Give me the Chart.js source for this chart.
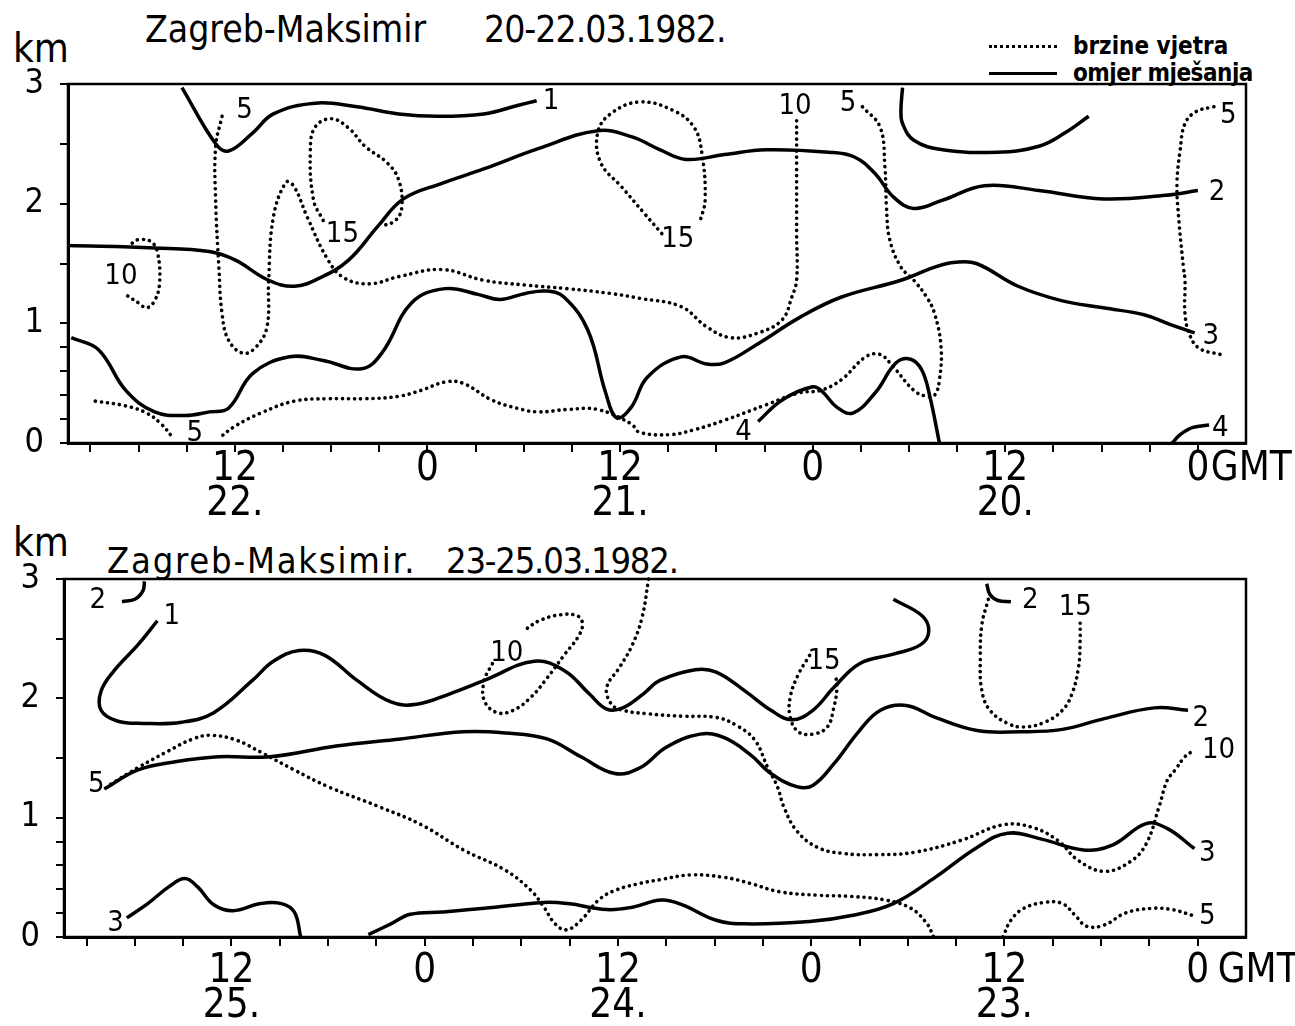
<!DOCTYPE html>
<html>
<head>
<meta charset="utf-8">
<script src="https://cdn.jsdelivr.net/npm/chart.js@4.4.0/dist/chart.umd.min.js"></script>
<style>
body { margin: 0; background: #fff; width: 1295px; height: 1026px; overflow: hidden; position: relative;
       font-family: 'DejaVu Sans Condensed', sans-serif; color: #000; }
canvas { position: absolute; left: 0; }
.txt { position: absolute; line-height: 1; white-space: nowrap; }
.uzorak { position: absolute; left: 989px; width: 68px; }
</style>
</head>
<body>
<div class="txt" style="left:13px;top:28px;font-size:40px">km</div>
<div class="txt" style="left:145px;top:11px;font-size:37px">Zagreb-Maksimir</div>
<div class="txt" style="left:484px;top:11px;font-size:37px;letter-spacing:-1px">20-22.03.1982.</div>
<div class="uzorak" style="top:45px;border-top:3px dotted #000"></div>
<div class="txt" style="left:1073px;top:34px;font-size:24px;font-weight:bold">brzine vjetra</div>
<div class="uzorak" style="top:72px;border-top:3px solid #000"></div>
<div class="txt" style="left:1073px;top:61px;font-size:24px;font-weight:bold;letter-spacing:-0.5px">omjer mješanja</div>

<div class="txt" style="left:13px;top:522px;font-size:40px">km</div>
<div class="txt" style="left:107px;top:543px;font-size:36px;letter-spacing:1.8px">Zagreb-Maksimir.</div>
<div class="txt" style="left:446px;top:543px;font-size:36px;letter-spacing:-1.2px">23-25.03.1982.</div>

<canvas id="gore" width="1295" height="540" style="top:0"></canvas>
<canvas id="dolje" width="1295" height="540" style="top:486px"></canvas>

<script>
// sati od 00 GMT prvog dana (os ide zdesna nalijevo), visina u km

// ---- 20-22.03.1982. ----
// omjer mjesanja (pune linije)
const goreOmjer1 = [[63.3,2.97],[61.2,2.50],[60.4,2.44],[58.9,2.59],[57.6,2.75],[55.0,2.84],[52.4,2.81],[49.8,2.75],[47.4,2.73],[44.5,2.75],[42.4,2.82],[41.2,2.86]];
const goreOmjer2 = [[70.4,1.65],[65.0,1.63],[61.6,1.60],[60.0,1.53],[57.9,1.36],[56.3,1.31],[54.7,1.38],[52.9,1.53],[51.1,1.81],[49.5,2.04],[47.1,2.17],[44.5,2.29],[41.1,2.46],[37.4,2.61],[35.3,2.56],[33.5,2.45],[31.9,2.37],[29.5,2.41],[26.9,2.45],[23.0,2.43],[21.4,2.39],[20.1,2.25],[19.0,2.06],[17.7,1.96],[15.9,2.03],[13.3,2.15],[9.9,2.11],[5.9,2.04],[2.0,2.07],[0.0,2.11]];
const goreOmjer2b = [[18.4,2.97],[18.5,2.78],[18.4,2.67],[17.7,2.53],[15.9,2.45],[12.5,2.43],[9.9,2.48],[8.3,2.59],[6.8,2.73]];
const goreOmjer3 = [[70.2,0.88],[68.5,0.78],[66.8,0.44],[65.0,0.26],[63.1,0.23],[61.6,0.26],[60.4,0.29],[58.9,0.58],[56.6,0.72],[54.5,0.69],[52.1,0.62],[50.8,0.76],[49.0,1.17],[46.9,1.29],[44.8,1.24],[43.5,1.20],[41.9,1.25],[40.6,1.27],[39.5,1.22],[38.0,0.94],[36.9,0.42],[36.2,0.21],[35.3,0.30],[34.3,0.55],[32.2,0.72],[30.6,0.66],[29.5,0.67],[27.4,0.83],[24.8,1.05],[22.2,1.22],[18.5,1.36],[16.4,1.47],[15.1,1.51],[13.8,1.50],[11.2,1.31],[8.5,1.19],[5.9,1.13],[3.3,1.07],[1.7,0.99],[0.2,0.92]];
const goreOmjer4 = [[27.4,0.18],[25.9,0.36],[24.0,0.47],[23.4,0.43],[22.5,0.30],[21.5,0.25],[20.1,0.42],[18.8,0.67],[17.9,0.70],[17.2,0.61],[16.7,0.39],[16.1,0.0]];
const goreOmjer4b = [[1.6,0.0],[1.1,0.07],[0.3,0.13],[-0.7,0.15]];
// brzine vjetra (tockaste linije)
const goreVjetar10 = [[60.8,2.73],[61.2,2.48],[61.2,2.03],[61.0,1.47],[60.8,1.08],[60.4,0.86],[59.5,0.75],[58.7,0.80],[58.0,0.97],[57.9,1.36],[57.6,1.89],[56.8,2.18],[56.3,2.14],[55.5,1.89],[54.2,1.53],[53.2,1.38],[51.6,1.33],[49.8,1.39],[47.1,1.45],[44.5,1.36],[41.9,1.32],[39.3,1.29],[36.6,1.25],[34.8,1.21],[32.2,1.14],[30.6,0.97],[29.1,0.88],[27.4,0.92],[25.9,1.03],[25.3,1.22],[25.0,1.36],[25.0,1.75],[25.0,2.31],[25.0,2.70]];
const goreVjetar10b = [[66.4,1.67],[66.0,1.70],[65.2,1.68],[64.8,1.58],[64.7,1.33],[65.0,1.19],[65.5,1.13],[66.0,1.17],[66.7,1.23]];
const goreVjetar15a = [[54.5,1.86],[55.1,2.03],[55.3,2.45],[55.0,2.64],[54.0,2.71],[52.9,2.63],[51.9,2.48],[50.5,2.34],[49.8,2.20],[49.6,1.97],[50.0,1.86],[50.9,1.81]];
const goreVjetar15b = [[33.4,1.75],[34.5,1.92],[35.9,2.14],[37.2,2.34],[37.4,2.59],[36.6,2.75],[34.8,2.85],[32.7,2.78],[31.4,2.64],[30.9,2.42],[30.7,2.03],[31.0,1.86]];
const goreVjetar5 = [[20.9,2.81],[19.8,2.64],[19.5,2.31],[19.4,1.97],[19.2,1.70],[18.5,1.47],[17.7,1.36],[16.9,1.22],[16.4,1.08],[16.0,0.80],[16.1,0.53],[16.4,0.40],[16.9,0.39],[17.7,0.44],[19.0,0.64],[19.8,0.74],[20.7,0.72],[22.2,0.53],[23.5,0.44],[24.8,0.42],[26.9,0.32],[29.5,0.19],[31.4,0.11],[32.9,0.07],[34.8,0.09],[35.3,0.16],[37.4,0.28],[39.3,0.28],[41.1,0.26],[42.4,0.29],[44.0,0.36],[45.8,0.50],[46.9,0.51],[48.4,0.44],[49.8,0.39],[51.9,0.37],[54.2,0.37],[56.3,0.35],[58.4,0.25],[60.0,0.14],[60.9,0.05]];
const goreVjetar5b = [[68.7,0.35],[66.8,0.31],[65.5,0.25],[64.6,0.16],[63.9,0.05]];
const goreVjetar5c = [[-1.0,2.81],[0.1,2.77],[0.8,2.67],[1.1,2.45],[1.3,2.17],[1.2,1.89],[0.9,1.47],[0.8,1.36],[0.8,1.08],[0.5,0.90],[-0.1,0.79],[-1.4,0.74]];
const goreNapisi = [[59.4,2.78,'5'],[40.3,2.85,'1'],[53.3,1.74,'15'],[67.1,1.39,'10'],[62.5,0.08,'5'],[25.1,2.81,'10'],[21.8,2.84,'5'],[32.4,1.70,'15'],[-1.2,2.09,'2'],[-1.9,2.74,'5'],[-0.8,0.89,'3'],[28.3,0.09,'4'],[-1.4,0.12,'4']];

// ---- 23-25.03.1982. ----
const doljeOmjer1 = [[64.6,2.65],[65.8,2.45],[67.3,2.23],[68.1,2.06],[68.1,1.90],[67.1,1.81],[65.5,1.79],[63.1,1.80],[61.1,1.88],[58.7,2.15],[57.4,2.31],[55.8,2.40],[54.2,2.36],[52.2,2.15],[50.1,1.97],[48.5,1.95],[46.4,2.04],[44.3,2.15],[41.2,2.31],[39.3,2.23],[37.8,2.04],[36.7,1.91],[35.7,1.92],[34.4,2.04],[33.4,2.15],[31.2,2.24],[29.9,2.22],[28.1,2.06],[26.5,1.90],[25.2,1.82],[23.9,1.90],[22.6,2.09],[21.0,2.29],[18.9,2.37],[17.2,2.45],[16.7,2.56],[17.1,2.69],[18.9,2.83]];
const doljeOmjer2a = [[65.4,2.98],[65.5,2.90],[66.0,2.83],[66.8,2.81]];
const doljeOmjer2b = [[13.1,2.96],[12.9,2.87],[12.4,2.82],[11.6,2.81]];
const doljeOmjer2 = [[67.9,1.24],[65.8,1.40],[63.4,1.47],[60.8,1.51],[57.6,1.51],[53.5,1.60],[49.5,1.66],[45.6,1.72],[43.0,1.71],[40.4,1.66],[38.3,1.51],[36.2,1.37],[34.6,1.42],[33.0,1.59],[30.9,1.70],[29.4,1.67],[27.8,1.53],[26.5,1.37],[24.9,1.26],[23.9,1.27],[22.6,1.45],[21.0,1.73],[19.7,1.90],[18.1,1.94],[16.3,1.84],[13.7,1.73],[11.0,1.72],[8.4,1.74],[5.8,1.83],[2.7,1.92],[0.6,1.90]];
const doljeOmjer3a = [[66.5,0.16],[65.2,0.28],[63.9,0.42],[62.9,0.49],[62.1,0.42],[61.1,0.27],[59.9,0.22],[58.2,0.28],[56.9,0.28],[56.1,0.21],[55.7,0.0]];
const doljeOmjer3 = [[51.5,0.02],[50.1,0.11],[48.9,0.19],[46.9,0.21],[44.3,0.24],[40.6,0.29],[39.1,0.28],[36.7,0.23],[35.1,0.25],[33.3,0.31],[32.0,0.27],[29.9,0.14],[28.1,0.11],[24.1,0.13],[21.5,0.18],[18.9,0.28],[16.3,0.50],[13.7,0.75],[11.8,0.87],[9.7,0.82],[7.1,0.73],[5.3,0.77],[3.2,0.95],[1.9,0.91],[0.2,0.74]];
const doljeVjetar5 = [[67.5,1.28],[65.8,1.42],[63.9,1.56],[62.4,1.66],[61.3,1.69],[59.7,1.65],[58.2,1.55],[56.1,1.40],[54.0,1.26],[50.8,1.09],[48.2,0.94],[45.6,0.73],[43.0,0.56],[41.4,0.39],[40.6,0.25],[39.9,0.11],[39.2,0.06],[38.3,0.14],[37.2,0.31],[36.2,0.39],[34.6,0.45],[33.4,0.48],[31.5,0.52],[29.4,0.50],[27.8,0.45],[26.0,0.38],[23.6,0.35],[21.5,0.34],[19.4,0.31],[17.8,0.24],[16.8,0.11],[16.4,0.0]];
const doljeVjetar10a = [[43.8,2.29],[44.3,2.15],[44.3,1.98],[43.5,1.88],[42.5,1.90],[41.4,2.01],[40.4,2.17],[39.3,2.37],[38.5,2.51],[38.2,2.62],[38.5,2.69],[39.6,2.70],[40.9,2.65],[41.7,2.58]];
const doljeVjetar10 = [[34.1,3.0],[34.5,2.68],[35.1,2.45],[35.9,2.26],[36.7,2.09],[36.4,1.95],[35.7,1.90],[34.1,1.87],[32.0,1.85],[29.9,1.84],[28.6,1.77],[27.5,1.65],[26.7,1.42],[26.1,1.26],[25.7,1.09],[24.9,0.89],[23.6,0.75],[22.0,0.70],[19.9,0.69],[17.6,0.71],[14.7,0.81],[12.1,0.94],[10.3,0.92],[8.7,0.81],[7.4,0.64],[5.8,0.55],[4.2,0.63],[3.2,0.78],[2.4,1.09],[1.9,1.31],[1.4,1.40],[0.8,1.51],[0.4,1.55]];
const doljeVjetar15a = [[24.1,2.36],[24.8,2.20],[25.3,2.01],[25.3,1.84],[24.8,1.72],[23.9,1.70],[23.0,1.76],[22.6,1.92],[22.4,2.09],[22.5,2.20]];
const doljeVjetar15b = [[13.0,2.83],[13.4,2.62],[13.5,2.34],[13.4,2.06],[12.9,1.90],[11.8,1.79],[10.8,1.76],[9.5,1.80],[8.4,1.90],[7.8,2.04],[7.4,2.26],[7.3,2.48],[7.3,2.65]];
const doljeVjetar5b = [[12.1,0.0],[11.6,0.14],[10.8,0.24],[9.5,0.29],[8.4,0.28],[7.6,0.18],[6.9,0.09],[5.8,0.10],[4.5,0.20],[2.9,0.24],[1.6,0.23],[0.3,0.18]];
const doljeNapisi = [[68.3,2.82,'2'],[63.7,2.69,'1'],[68.4,1.28,'5'],[67.2,0.11,'3'],[42.9,2.38,'10'],[23.2,2.31,'15'],[10.4,2.82,'2'],[7.6,2.76,'15'],[-0.2,1.83,'2'],[-1.3,1.56,'10'],[-0.6,0.70,'3'],[-0.6,0.17,'5']];

// osi
const satiCrtice = [0,3,6,9,12,15,18,21,24,27,30,33,36,39,42,45,48,51,54,57,60,63,66,69];
const satiOznake = [0, 12, 24, 36, 48, 60];
const goreDani = [['0'], ['12','20.'], ['0'], ['12','21.'], ['0'], ['12','22.']];
const doljeDani = [['0'], ['12','23.'], ['0'], ['12','24.'], ['0'], ['12','25.']];
const kmCrtice = [0, 0.2, 0.4, 0.6, 0.8, 1, 1.5, 2, 2.5, 3];

const FONT = "'DejaVu Sans Condensed', sans-serif";

function linija(tocke, tockasta) {
    return {
        data: tocke.map(function (t) { return { x: t[0], y: t[1] }; }),
        showLine: true,
        borderColor: '#000',
        borderWidth: tockasta ? 3.6 : 3.5,
        borderDash: tockasta ? [0.1, 6] : [],
        borderCapStyle: tockasta ? 'round' : 'butt',
        pointRadius: 0,
        tension: 0.4,
        fill: false,
        clip: false
    };
}

// brojke uz izolinije, okvir i GMT
const napisi = {
    id: 'napisi',
    afterDatasetsDraw(chart, args, opts) {
        const ctx = chart.ctx;
        const x = chart.scales.x, y = chart.scales.y;
        const ca = chart.chartArea;
        ctx.save();
        ctx.strokeStyle = '#000';
        ctx.lineWidth = 2.5;
        ctx.strokeRect(ca.left, ca.top, ca.right - ca.left, ca.bottom - ca.top);
        ctx.fillStyle = '#000';
        ctx.font = '29px ' + FONT;
        ctx.textAlign = 'center';
        ctx.textBaseline = 'middle';
        opts.labels.forEach(function (l) {
            ctx.fillText(l[2], x.getPixelForValue(l[0]), y.getPixelForValue(l[1]));
        });
        ctx.font = '40px ' + FONT;
        ctx.textAlign = 'left';
        ctx.fillText('GMT', x.getPixelForValue(0) + opts.gmtGap, ca.bottom + 9 + opts.pad + 17.5);
        ctx.restore();
    }
};

function panel(id, skupovi, labels, dani, sirinaY, vrh, dno, pad, gmtGap) {
    const oznake = {};
    satiOznake.forEach(function (s, i) { oznake[s] = dani[i]; });
    return new Chart(document.getElementById(id), {
        type: 'scatter',
        data: { datasets: skupovi },
        plugins: [napisi],
        options: {
            responsive: false,
            animation: false,
            layout: { padding: { top: vrh, right: 1295 - 1246, left: 0, bottom: 0 } },
            plugins: {
                legend: { display: false },
                tooltip: { enabled: false },
                napisi: { labels: labels, pad: pad, gmtGap: gmtGap }
            },
            scales: {
                x: {
                    type: 'linear',
                    reverse: true,
                    min: -3,
                    max: 70.4,
                    afterBuildTicks: function (s) { s.ticks = satiCrtice.map(function (v) { return { value: v }; }); },
                    afterFit: function (s) { s.height = dno; },
                    border: { display: true, color: '#000', width: 3 },
                    grid: { drawOnChartArea: false, drawTicks: true, tickLength: 9, color: '#000', lineWidth: 2 },
                    ticks: {
                        autoSkip: false,
                        maxRotation: 0,
                        padding: pad,
                        color: '#000',
                        font: { family: FONT, size: 40, lineHeight: 0.875 },
                        callback: function (v) { return oznake[v] || ''; }
                    }
                },
                y: {
                    min: 0,
                    max: 3,
                    afterBuildTicks: function (s) { s.ticks = kmCrtice.map(function (v) { return { value: v }; }); },
                    afterFit: function (s) { s.width = sirinaY; },
                    border: { display: true, color: '#000', width: 3 },
                    grid: { drawOnChartArea: false, drawTicks: true, tickLength: 8, color: '#000', lineWidth: 2 },
                    ticks: {
                        autoSkip: false,
                        padding: 16,
                        color: '#000',
                        font: { family: FONT, size: 34 },
                        callback: function (v) { return Number.isInteger(v) ? String(v) : ''; }
                    }
                }
            }
        }
    });
}

const goreSkupovi = [
    linija(goreOmjer1, false), linija(goreOmjer2, false), linija(goreOmjer2b, false),
    linija(goreOmjer3, false), linija(goreOmjer4, false), linija(goreOmjer4b, false),
    linija(goreVjetar10, true), linija(goreVjetar10b, true), linija(goreVjetar15a, true),
    linija(goreVjetar15b, true), linija(goreVjetar5, true), linija(goreVjetar5b, true),
    linija(goreVjetar5c, true)
];
const doljeSkupovi = [
    linija(doljeOmjer1, false), linija(doljeOmjer2a, false), linija(doljeOmjer2b, false),
    linija(doljeOmjer2, false), linija(doljeOmjer3a, false), linija(doljeOmjer3, false),
    linija(doljeVjetar5, true), linija(doljeVjetar10a, true), linija(doljeVjetar10, true),
    linija(doljeVjetar15a, true), linija(doljeVjetar15b, true), linija(doljeVjetar5b, true)
];

panel('gore', goreSkupovi, goreNapisi, goreDani, 68, 84, 540 - 443, 0, 13);
panel('dolje', doljeSkupovi, doljeNapisi, doljeDani, 64, 579 - 486, 540 - 451, 8, 20);
</script>
</body>
</html>
